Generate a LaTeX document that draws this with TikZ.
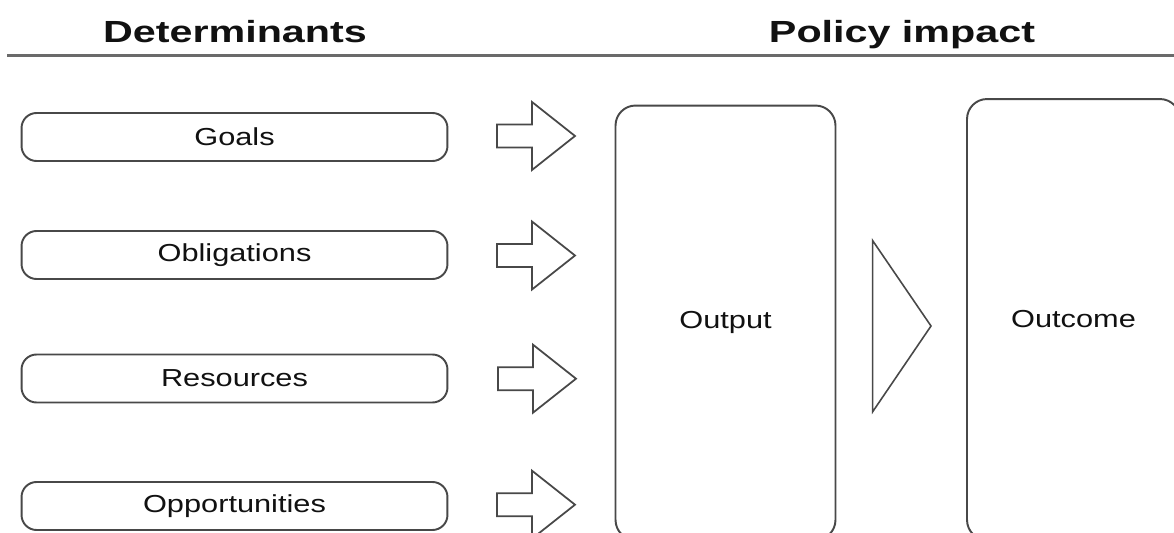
\documentclass[tikz,border=0pt]{standalone}
\usepackage{fontspec}
\setmainfont{Liberation Sans}
\definecolor{ink}{HTML}{484848}
\definecolor{rulegray}{HTML}{6A6A6A}
\definecolor{textblack}{HTML}{111111}
% horizontally widened lettering
\newcommand\widetext[2]{\scalebox{#1}[1]{#2}}
\newcommand\lbl[1]{\widetext{1.25}{#1}}

\begin{document}
\begin{tikzpicture}[x=0.02cm,y=-0.02cm,
  pill/.style={draw=ink, line width=1.1pt, rounded corners=0.3cm,
    minimum width=8.52cm, minimum height=0.96cm, inner sep=0pt,
    text=textblack, font=\fontsize{14}{17}\selectfont},
  bigbox/.style={draw=ink, line width=1.1pt, rounded corners=0.4cm,
    inner sep=0pt, text=textblack, font=\fontsize{14}{17}\selectfont},
  title/.style={anchor=base, text=textblack,
    font=\bfseries\fontsize{17.4}{20}\selectfont},
  shapeline/.style={draw=ink, line width=1.0pt, line join=miter},
  blockarrow/.pic={\draw[shapeline] (-39,-11.5) -- (-4,-11.5) -- (-4,-34)
    -- (39,0) -- (-4,34) -- (-4,11.5) -- (-39,11.5) -- cycle;},
]
\fill[white] (0,0) rectangle (1174,533);
\clip (0,0) rectangle (1174,533);

% headings and rule
\node[title] (det) at (235,43) {\widetext{1.35}{Determinants}};
\node[title] (pol) at (902,43) {\widetext{1.35}{Policy impact}};
\draw[rulegray, line width=1.5pt] (7,55.5) -- (1174,55.5);

% determinants
\node[pill] (goals) at (234.5,137)   {\lbl{Goals}};
\node[pill] (oblig) at (234.5,255)   {\lbl{Obligations}};
\node[pill] (resou) at (234.5,378.5) {\lbl{Resources}};
\node[pill] (oppor) at (234.5,506)   {\lbl{Opportunities}};

% block arrows towards the output
\coordinate (a1) at (536,136);
\coordinate (a2) at (536,255.5);
\coordinate (a3) at (537,378.7);
\coordinate (a4) at (536,504.7);
\foreach \a in {a1,a2,a3,a4} \pic at (\a) {blockarrow};

% policy impact
\node[bigbox, minimum width=4.4cm, minimum height=8.69cm] (output)
  at (725.5,322.75) {\lbl{Output}};
\node[bigbox, minimum width=4.26cm, minimum height=8.82cm] (outcome)
  at (1073.5,319.5) {\lbl{Outcome}};

% triangle between output and outcome
\coordinate (t1) at (872.7,240.7);
\coordinate (t2) at (931,326);
\coordinate (t3) at (872.7,411.7);
\draw[shapeline, line width=0.9pt] (t1) -- (t2) -- (t3) -- cycle;
\end{tikzpicture}
\end{document}
